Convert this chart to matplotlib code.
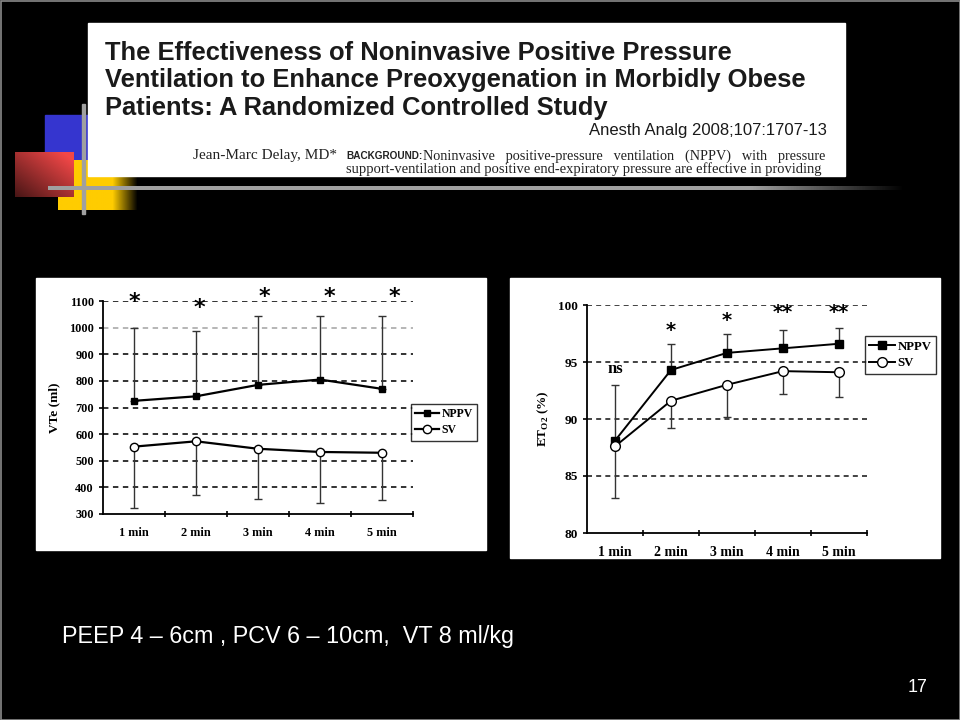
import numpy as np
import matplotlib
matplotlib.use('Agg')
import matplotlib.pyplot as plt
from matplotlib.patches import Rectangle

# chart data
minutes = ['1 min', '2 min', '3 min', '4 min', '5 min']

vte_nppv = [725, 742, 785, 805, 770]
vte_nppv_hi = [1000, 988, 1043, 1043, 1043]
vte_sv = [553, 573, 545, 533, 530]
vte_sv_lo = [322, 372, 357, 340, 353]
vte_marks = ['*', '*', '*', '*', '*']
vte_mark_y = [1095, 1075, 1115, 1115, 1115]
vte_ticks = [300, 400, 500, 600, 700, 800, 900, 1000, 1100]

eto_nppv = [88.1, 94.3, 95.8, 96.2, 96.6]
eto_nppv_hi = [88.1, 96.6, 97.5, 97.8, 98.0]
eto_sv = [87.6, 91.6, 93.0, 94.2, 94.1]
eto_sv_lo = [83.1, 89.2, 90.2, 92.2, 91.9]
eto_one_bar_hi = 93.0  # 1 min bar of SV goes up to 93
eto_marks = ['ns', '*', '*', '**', '**']
eto_mark_y = [94.4, 97.8, 98.6, 99.3, 99.3]
eto_ticks = [80, 85, 90, 95, 100]

serif = ['Liberation Serif', 'DejaVu Serif']
sans = ['Liberation Sans', 'DejaVu Sans']

fig = plt.figure(figsize=(9.6, 7.2), dpi=100, facecolor='black')

# slide background, drawn in pixel units
bg = fig.add_axes([0, 0, 1, 1], zorder=0)
bg.set_xlim(0, 960)
bg.set_ylim(720, 0)
bg.axis('off')
bg.set_facecolor('black')

# decoration squares
bg.add_patch(Rectangle((45, 115), 45, 45, color='#3535cf', zorder=1))
yel = np.ones((10, 80, 3)) * np.array([1.0, 0.8, 0.0])
fade = np.clip((np.arange(80) - 55) / -25.0 + 1, 0, 1)
fade = np.where(np.arange(80) < 55, 1.0, fade)
yel = yel * fade[None, :, None]
bg.imshow(yel, extent=(58, 137, 210, 160), aspect='auto', zorder=2)

u = np.linspace(0, 1, 60)[None, :]
v = np.linspace(0, 1, 45)[:, None]
f = 0.3 + 0.7 * np.clip(0.55 * u + 0.55 * (1 - v), 0, 1)
red = np.stack([0.95 * f, 0.28 * f, 0.28 * f], axis=-1)
bg.imshow(red, extent=(15, 74, 197, 152), aspect='auto', zorder=4)

# white paper title box
bg.add_patch(Rectangle((88, 23), 757, 153, color='white', zorder=3))

hl = np.linspace(0, 1, 300)
hf = np.where(hl < 0.82, 1.0, np.clip(1 - (hl - 0.82) / 0.18, 0, 1)) * 0.63
gray = np.stack([hf, hf, hf], axis=-1)[None, :, :]
bg.imshow(gray, extent=(48, 905, 190, 186), aspect='auto', zorder=5)
bg.add_patch(Rectangle((81.5, 104), 3, 110, color='#a0a0a0', zorder=5))

# title box text
title_lines = ['The Effectiveness of Noninvasive Positive Pressure',
               'Ventilation to Enhance Preoxygenation in Morbidly Obese',
               'Patients: A Randomized Controlled Study']
for i, line in enumerate(title_lines):
    bg.text(105, 53 + i * 27.5, line, family=sans, fontsize=18.4, fontweight='bold',
            color='#1a1a1a', va='center', ha='left', zorder=6)
bg.text(827, 131, 'Anesth Analg 2008;107:1707-13', family=sans, fontsize=12,
        color='#1a1a1a', va='center', ha='right', zorder=6)
bg.text(337, 156, 'Jean-Marc Delay, MD*', family=serif, fontsize=11, color='#222222',
        va='center', ha='right', zorder=6)
bg.text(346, 156, 'BACKGROUND:', family=sans, fontsize=7.2, fontweight='bold',
        color='#222222', va='center', ha='left', zorder=6)
bg.text(825, 156, 'Noninvasive   positive-pressure   ventilation   (NPPV)   with   pressure',
        family=serif, fontsize=10.3, color='#222222', va='center', ha='right', zorder=6)
bg.text(346, 169, 'support-ventilation and positive end-expiratory pressure are effective in providing',
        family=serif, fontsize=10.45, color='#222222', va='center', ha='left', zorder=6)

# chart panels
bg.add_patch(Rectangle((36, 278), 450, 272, color='white', zorder=1))
bg.add_patch(Rectangle((510, 278), 430, 280, color='white', zorder=1))

# footer
bg.text(62, 636, 'PEEP 4 \u2013 6cm , PCV 6 \u2013 10cm,  VT 8 ml/kg', family=sans,
        fontsize=16.8, color='white', va='center', ha='left')
bg.text(918, 688, '17', family=sans, fontsize=13, color='white', va='center', ha='center')

# slide frame
bg.add_patch(Rectangle((0.5, 0.5), 959, 719, fill=False, edgecolor='#8a8a8a', lw=1.2, zorder=10))


def style_axes(ax, ticks, xlab_size, ylab_size):
    x = np.arange(1, len(minutes) + 1)
    ax.set_xlim(0.5, len(minutes) + 0.5)
    ax.set_ylim(ticks[0], ticks[-1])
    ax.set_facecolor('white')
    for s in ['top', 'right']:
        ax.spines[s].set_visible(False)
    for s in ['left', 'bottom']:
        ax.spines[s].set_linewidth(1.3)
    ax.set_xticks(x)
    ax.set_xticklabels(minutes, family=serif, fontweight='bold', fontsize=xlab_size)
    ax.set_xticks(x + 0.5, minor=True)
    ax.tick_params(axis='x', which='major', length=0, pad=9)
    ax.tick_params(axis='x', which='minor', length=4, width=1.2, direction='inout')
    ax.set_yticks(ticks)
    ax.set_yticklabels([str(t) for t in ticks], family=serif, fontweight='bold',
                       fontsize=ylab_size)
    ax.tick_params(axis='y', length=3, width=1.2)
    return x


def add_legend(ax, h1, h2, anchor, size):
    leg = ax.legend([h1, h2], ['NPPV', 'SV'], loc='center left', bbox_to_anchor=anchor,
                    frameon=True, fancybox=False, edgecolor='black', handlelength=2.0,
                    handletextpad=0.2, borderpad=0.35, labelspacing=0.35,
                    prop={'family': serif, 'weight': 'bold', 'size': size})
    leg.get_frame().set_linewidth(1.0)


# left chart: VTe
ax1 = fig.add_axes([103 / 960, 1 - 514 / 720, 310 / 960, 213 / 720], zorder=2)
x = style_axes(ax1, vte_ticks, 8.8, 8.8)
for t in vte_ticks[1:]:
    ax1.axhline(t, color='#b0b0b0' if t == 1000 else '#222222', lw=1.3,
                ls=(0, (3, 2.5)), zorder=1)
ax1.errorbar(x, vte_nppv, yerr=[np.zeros(5), np.array(vte_nppv_hi) - vte_nppv],
             fmt='none', ecolor='#333333', elinewidth=1, capsize=3, zorder=2)
ax1.errorbar(x, vte_sv, yerr=[np.array(vte_sv) - vte_sv_lo, np.zeros(5)],
             fmt='none', ecolor='#333333', elinewidth=1, capsize=3, zorder=2)
h1, = ax1.plot(x, vte_nppv, color='black', lw=1.6, marker='s', ms=5, mfc='black', zorder=3)
h2, = ax1.plot(x, vte_sv, color='black', lw=1.6, marker='o', ms=6, mfc='white',
               mec='black', mew=1, zorder=3)
for i, m in enumerate(vte_marks):
    ax1.text(x[i] + 0.05 * i, vte_mark_y[i], m, family='DejaVu Sans', fontsize=16,
             fontweight='bold', ha='center', va='center', clip_on=False)
ax1.set_ylabel('VTe (ml)', family=serif, fontweight='bold', fontsize=9.5, labelpad=6)
add_legend(ax1, h1, h2, (0.975, 0.43), 8.5)

# right chart: ETO2
ax2 = fig.add_axes([587 / 960, 1 - 533 / 720, 280 / 960, 228 / 720], zorder=2)
x = style_axes(ax2, eto_ticks, 10, 9.5)
for t in eto_ticks[1:]:
    ax2.axhline(t, color='#222222', lw=1.2, ls=(0, (3, 2.5)), zorder=1)
up = np.array(eto_nppv_hi) - eto_nppv
up[0] = eto_one_bar_hi - eto_sv[0]
ax2.errorbar(x[1:], eto_nppv[1:], yerr=[np.zeros(4), up[1:]],
             fmt='none', ecolor='#333333', elinewidth=1, capsize=3, zorder=2)
ax2.errorbar(x[:1], eto_sv[:1], yerr=[[eto_sv[0] - eto_sv_lo[0]], [up[0]]],
             fmt='none', ecolor='#333333', elinewidth=1, capsize=3, zorder=2)
ax2.errorbar(x[1:], eto_sv[1:], yerr=[np.array(eto_sv[1:]) - eto_sv_lo[1:], np.zeros(4)],
             fmt='none', ecolor='#333333', elinewidth=1, capsize=3, zorder=2)
h1, = ax2.plot(x, eto_nppv, color='black', lw=1.4, marker='s', ms=6, mfc='black', zorder=3)
h2, = ax2.plot(x, eto_sv, color='black', lw=1.4, marker='o', ms=7, mfc='white',
               mec='black', mew=1, zorder=3)
for i, m in enumerate(eto_marks):
    ax2.text(x[i], eto_mark_y[i], m, family=serif if m == 'ns' else 'DejaVu Sans',
             fontsize=12 if m == 'ns' else 14, fontweight='bold',
             ha='center', va='center', clip_on=False)
ax2.set_ylabel('ET$_{\\mathregular{O2}}$ (%)', family=serif, fontweight='bold',
               fontsize=9.5, labelpad=5)
add_legend(ax2, h1, h2, (0.97, 0.78), 9.2)

fig.savefig('out.png', dpi=100, facecolor='black')
